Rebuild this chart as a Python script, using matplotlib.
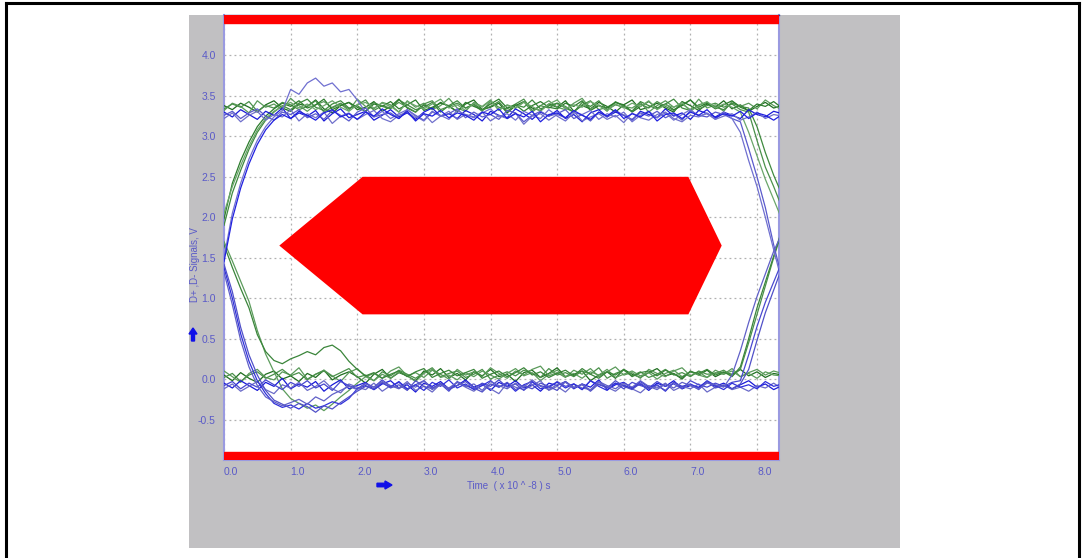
import numpy as np
import matplotlib.pyplot as plt
from matplotlib.patches import Rectangle, Polygon, FancyArrow
from matplotlib.lines import Line2D
import matplotlib.transforms as mtransforms

plt.rcParams['font.family'] = ['Liberation Sans', 'DejaVu Sans']

# 取樣時間 (x 10^-8 s), 每 0.125 一點
step = 0.125
n_pts = 68

# 綠色波形 (D+)
g_hh = [3.38, 3.33, 3.41, 3.36, 3.30, 3.39, 3.44, 3.35, 3.31, 3.40,
        3.37, 3.45, 3.34, 3.29, 3.38, 3.42, 3.33, 3.36, 3.43, 3.31,
        3.37, 3.46, 3.35, 3.30, 3.39, 3.34, 3.42, 3.37, 3.31, 3.40,
        3.45, 3.33, 3.36, 3.41, 3.29, 3.38, 3.43, 3.35, 3.32, 3.40,
        3.36, 3.44, 3.31, 3.38, 3.34, 3.42, 3.37, 3.30, 3.39, 3.45,
        3.33, 3.36, 3.41, 3.35, 3.30, 3.43, 3.38, 3.32, 3.40, 3.36,
        3.44, 3.34, 3.39, 3.31, 3.37, 3.42, 3.35, 3.38]
g_hh2 = [3.32, 3.41, 3.37, 3.29, 3.44, 3.36, 3.40, 3.33, 3.47, 3.38,
         3.31, 3.39, 3.43, 3.35, 3.40, 3.32, 3.46, 3.37, 3.34, 3.42,
         3.39, 3.30, 3.44, 3.36, 3.41, 3.33, 3.38, 3.47, 3.35, 3.31,
         3.42, 3.37, 3.45, 3.32, 3.39, 3.35, 3.43, 3.30, 3.38, 3.44,
         3.36, 3.33, 3.41, 3.47, 3.34, 3.39, 3.31, 3.43, 3.37, 3.35,
         3.42, 3.30, 3.38, 3.44, 3.36, 3.40, 3.33, 3.46, 3.35, 3.39,
         3.31, 3.43, 3.37, 3.41, 3.34, 3.45, 3.38, 3.33]
g_hf = [3.34, 3.40, 3.36, 3.43, 3.31, 3.38, 3.35, 3.42, 3.39, 3.33,
        3.37, 3.44, 3.30, 3.36, 3.41, 3.34, 3.39, 3.45, 3.32, 3.38,
        3.35, 3.42, 3.36, 3.30, 3.40, 3.44, 3.33, 3.37, 3.41, 3.35,
        3.39, 3.31, 3.43, 3.36, 3.34, 3.40, 3.46, 3.32, 3.38, 3.35,
        3.41, 3.37, 3.30, 3.39, 3.44, 3.33, 3.36, 3.42, 3.38, 3.31,
        3.40, 3.35, 3.43, 3.37, 3.32, 3.39, 3.45, 3.34, 3.38, 3.41,
        3.36, 3.40, 3.33, 3.30, 2.95, 2.62, 2.38, 2.12]
g_rh = [1.98, 2.42, 2.70, 2.93, 3.12, 3.25, 3.34, 3.41, 3.37, 3.44,
        3.35, 3.39, 3.46, 3.33, 3.38, 3.42, 3.36, 3.31, 3.40, 3.37,
        3.43, 3.34, 3.39, 3.45, 3.32, 3.36, 3.41, 3.38, 3.30, 3.42,
        3.37, 3.33, 3.40, 3.46, 3.35, 3.39, 3.31, 3.38, 3.43, 3.36,
        3.34, 3.41, 3.37, 3.44, 3.32, 3.38, 3.35, 3.42, 3.39, 3.30,
        3.37, 3.43, 3.35, 3.40, 3.33, 3.38, 3.45, 3.36, 3.41, 3.34,
        3.39, 3.44, 3.36, 3.32, 3.40, 3.37, 3.43, 3.35]
g_rh2 = [1.90, 2.30, 2.58, 2.84, 3.05, 3.20, 3.30, 3.38, 3.33, 3.41,
         3.46, 3.36, 3.32, 3.40, 3.44, 3.35, 3.38, 3.31, 3.42, 3.37,
         3.34, 3.45, 3.39, 3.33, 3.36, 3.42, 3.30, 3.38, 3.44, 3.35,
         3.40, 3.33, 3.37, 3.43, 3.31, 3.39, 3.36, 3.45, 3.34, 3.38,
         3.41, 3.35, 3.30, 3.42, 3.37, 3.44, 3.33, 3.39, 3.36, 3.31,
         3.43, 3.38, 3.34, 3.40, 3.46, 3.35, 3.32, 3.39, 3.42, 3.36,
         3.33, 3.41, 3.37, 3.35, 3.12, 2.80, 2.52, 2.28]
g_rf = [2.05, 2.38, 2.64, 2.88, 3.08, 3.22, 3.31, 3.37, 3.42, 3.35,
        3.40, 3.33, 3.38, 3.44, 3.36, 3.31, 3.39, 3.42, 3.35, 3.41,
        3.37, 3.30, 3.43, 3.38, 3.34, 3.40, 3.46, 3.35, 3.39, 3.32,
        3.41, 3.36, 3.44, 3.33, 3.38, 3.35, 3.42, 3.37, 3.31, 3.40,
        3.45, 3.34, 3.39, 3.36, 3.43, 3.38, 3.32, 3.40, 3.35, 3.41,
        3.37, 3.44, 3.33, 3.39, 3.36, 3.42, 3.31, 3.38, 3.43, 3.35,
        3.40, 3.36, 3.30, 3.05, 2.76, 2.47, 2.22, 1.97]
g_ll = [0.05, -0.02, 0.08, 0.01, -0.04, 0.06, 0.10, 0.00, 0.04, -0.03,
        0.07, 0.02, 0.11, -0.01, 0.05, 0.09, 0.03, -0.05, 0.06, 0.12,
        0.01, 0.08, 0.04, -0.02, 0.10, 0.05, 0.13, 0.02, 0.07, -0.01,
        0.09, 0.04, 0.12, 0.03, 0.06, -0.03, 0.08, 0.11, 0.02, 0.07,
        0.14, 0.03, 0.06, 0.10, -0.02, 0.05, 0.09, 0.01, 0.12, 0.06,
        0.02, 0.08, 0.13, 0.04, 0.07, 0.00, 0.10, 0.05, 0.11, 0.03,
        0.08, 0.06, 0.12, 0.04, 0.09, 0.02, 0.07, 0.05]
g_ll2 = [0.10, 0.03, -0.04, 0.07, 0.12, 0.02, -0.01, 0.09, 0.05, 0.14,
         0.00, 0.06, 0.11, 0.04, -0.03, 0.08, 0.13, 0.03, 0.07, 0.01,
         0.10, 0.15, 0.04, 0.08, 0.02, 0.11, 0.06, 0.00, 0.12, 0.05,
         0.09, 0.03, 0.14, 0.07, 0.01, 0.10, 0.05, 0.12, 0.16, 0.04,
         0.08, 0.02, 0.11, 0.06, 0.13, 0.03, 0.09, 0.15, 0.05, 0.08,
         0.01, 0.12, 0.07, 0.03, 0.10, 0.14, 0.04, 0.09, 0.02, 0.11,
         0.06, 0.13, 0.03, 0.08, 0.12, 0.05, 0.10, 0.07]
g_lr = [0.02, 0.07, -0.03, 0.05, 0.09, 0.01, 0.06, 0.12, 0.04, 0.08,
        -0.01, 0.06, 0.10, 0.03, 0.08, 0.13, 0.02, 0.05, -0.02, 0.09,
        0.04, 0.11, 0.06, 0.01, 0.08, 0.14, 0.03, 0.07, 0.10, 0.02,
        0.06, 0.12, 0.00, 0.05, 0.09, 0.04, 0.11, 0.07, 0.02, 0.13,
        0.05, 0.08, 0.03, 0.10, 0.06, 0.14, 0.01, 0.07, 0.11, 0.04,
        0.09, 0.02, 0.06, 0.12, 0.05, 0.08, 0.03, 0.10, 0.06, 0.07,
        0.11, 0.04, 0.12, 0.45, 0.80, 1.15, 1.50, 1.82]
g_fl = [1.70, 1.46, 1.21, 0.96, 0.60, 0.31, 0.09, -0.12, -0.24, -0.30,
        -0.36, -0.32, -0.39, -0.31, -0.22, -0.14, -0.05, 0.03, -0.02, 0.06,
        0.01, 0.09, 0.04, -0.03, 0.07, 0.12, 0.02, 0.05, -0.01, 0.08,
        0.03, 0.10, 0.05, 0.00, 0.07, 0.13, 0.04, 0.08, -0.02, 0.06,
        0.11, 0.03, 0.07, 0.01, 0.09, 0.05, 0.12, 0.02, 0.06, 0.10,
        0.04, 0.08, 0.00, 0.07, 0.11, 0.03, 0.09, 0.05, 0.02, 0.08,
        0.06, 0.10, 0.03, 0.07, 0.01, 0.09, 0.05, 0.04]
g_fr = [1.66, 1.38, 1.12, 0.88, 0.55, 0.34, 0.23, 0.19, 0.25, 0.29,
        0.34, 0.30, 0.39, 0.42, 0.35, 0.22, 0.12, 0.04, 0.08, 0.01,
        0.06, 0.10, 0.03, 0.09, 0.13, 0.02, 0.07, 0.11, 0.04, 0.08,
        0.12, 0.01, 0.06, 0.10, 0.03, 0.08, 0.14, 0.05, 0.09, 0.02,
        0.07, 0.11, 0.04, 0.13, 0.06, 0.01, 0.09, 0.05, 0.12, 0.03,
        0.08, 0.10, 0.04, 0.11, 0.06, 0.02, 0.09, 0.07, 0.12, 0.05,
        0.09, 0.03, 0.15, 0.50, 0.88, 1.20, 1.52, 1.85]

# 藍色波形 (D-)
b_hh = [3.30, 3.24, 3.33, 3.27, 3.21, 3.31, 3.26, 3.35, 3.22, 3.29,
        3.25, 3.32, 3.19, 3.28, 3.34, 3.23, 3.27, 3.31, 3.20, 3.26,
        3.33, 3.24, 3.29, 3.21, 3.30, 3.35, 3.25, 3.28, 3.22, 3.32,
        3.27, 3.19, 3.31, 3.26, 3.23, 3.34, 3.28, 3.21, 3.30, 3.25,
        3.32, 3.22, 3.27, 3.18, 3.29, 3.33, 3.24, 3.30, 3.26, 3.20,
        3.31, 3.27, 3.23, 3.34, 3.25, 3.29, 3.21, 3.32, 3.28, 3.24,
        3.30, 3.26, 3.22, 3.33, 3.27, 3.24, 3.31, 3.28]
b_hh2 = [3.22, 3.29, 3.18, 3.26, 3.31, 3.20, 3.27, 3.24, 3.33, 3.19,
         3.28, 3.23, 3.30, 3.16, 3.25, 3.29, 3.21, 3.27, 3.32, 3.22,
         3.18, 3.26, 3.30, 3.23, 3.28, 3.17, 3.25, 3.31, 3.21, 3.27,
         3.24, 3.30, 3.19, 3.26, 3.22, 3.29, 3.15, 3.25, 3.28, 3.20,
         3.27, 3.23, 3.31, 3.19, 3.24, 3.28, 3.21, 3.26, 3.17, 3.29,
         3.23, 3.20, 3.27, 3.30, 3.22, 3.18, 3.26, 3.24, 3.29, 3.21,
         3.25, 3.28, 3.20, 3.24, 3.30, 3.22, 3.27, 3.25]
b_hf = [3.26, 3.31, 3.22, 3.29, 3.34, 3.25, 3.20, 3.30, 3.27, 3.33,
        3.23, 3.28, 3.21, 3.32, 3.26, 3.19, 3.30, 3.35, 3.24, 3.27,
        3.29, 3.22, 3.33, 3.26, 3.20, 3.31, 3.25, 3.28, 3.34, 3.23,
        3.30, 3.24, 3.27, 3.21, 3.32, 3.29, 3.18, 3.26, 3.31, 3.25,
        3.28, 3.33, 3.22, 3.27, 3.19, 3.30, 3.24, 3.32, 3.26, 3.21,
        3.29, 3.25, 3.31, 3.23, 3.28, 3.20, 3.32, 3.26, 3.24, 3.30,
        3.27, 3.22, 3.18, 2.85, 2.50, 2.12, 1.66, 1.25]
b_rf = [1.50, 2.05, 2.42, 2.72, 2.95, 3.12, 3.24, 3.32, 3.58, 3.52,
        3.66, 3.72, 3.62, 3.66, 3.55, 3.58, 3.45, 3.30, 3.24, 3.31,
        3.22, 3.28, 3.33, 3.25, 3.19, 3.30, 3.26, 3.21, 3.32, 3.27,
        3.23, 3.29, 3.34, 3.24, 3.28, 3.20, 3.31, 3.26, 3.22, 3.33,
        3.25, 3.19, 3.29, 3.27, 3.32, 3.21, 3.28, 3.24, 3.30, 3.18,
        3.26, 3.31, 3.23, 3.29, 3.20, 3.27, 3.33, 3.25, 3.28, 3.21,
        3.30, 3.22, 3.05, 2.70, 2.38, 2.00, 1.60, 1.20]
b_rh = [1.45, 1.98, 2.36, 2.66, 2.90, 3.08, 3.20, 3.27, 3.22, 3.31,
        3.26, 3.20, 3.29, 3.33, 3.24, 3.28, 3.21, 3.30, 3.25, 3.34,
        3.27, 3.22, 3.31, 3.19, 3.28, 3.25, 3.32, 3.23, 3.29, 3.26,
        3.20, 3.30, 3.27, 3.34, 3.22, 3.28, 3.24, 3.31, 3.18, 3.27,
        3.29, 3.23, 3.32, 3.26, 3.21, 3.30, 3.25, 3.33, 3.22, 3.28,
        3.24, 3.31, 3.19, 3.27, 3.29, 3.22, 3.30, 3.26, 3.33, 3.23,
        3.28, 3.25, 3.31, 3.22, 3.29, 3.26, 3.20, 3.27]
b_ll = [-0.05, -0.11, -0.02, -0.08, -0.14, -0.04, -0.09, 0.01, -0.12, -0.06,
        -0.10, -0.03, -0.15, -0.07, -0.01, -0.12, -0.08, -0.04, -0.13, -0.06,
        -0.02, -0.11, -0.07, -0.16, -0.05, -0.09, -0.03, -0.12, -0.08, -0.01,
        -0.10, -0.06, -0.14, -0.04, -0.09, -0.02, -0.11, -0.07, -0.15, -0.05,
        -0.08, -0.03, -0.12, -0.06, -0.10, -0.01, -0.13, -0.07, -0.04, -0.11,
        -0.06, -0.14, -0.05, -0.09, -0.02, -0.12, -0.08, -0.10, -0.03, -0.09,
        -0.05, -0.12, -0.07, -0.02, -0.10, -0.06, -0.13, -0.08]
b_ll2 = [-0.12, -0.06, -0.15, -0.09, -0.03, -0.13, -0.18, -0.07, -0.11, -0.04,
         -0.14, -0.09, -0.02, -0.12, -0.17, -0.06, -0.10, -0.13, -0.05, -0.15,
         -0.08, -0.11, -0.03, -0.14, -0.09, -0.16, -0.06, -0.12, -0.04, -0.10,
         -0.15, -0.07, -0.12, -0.18, -0.05, -0.10, -0.13, -0.08, -0.02, -0.14,
         -0.09, -0.16, -0.06, -0.11, -0.13, -0.04, -0.10, -0.15, -0.07, -0.12,
         -0.17, -0.08, -0.11, -0.05, -0.14, -0.09, -0.12, -0.06, -0.16, -0.10,
         -0.07, -0.13, -0.10, -0.15, -0.08, -0.11, -0.05, -0.12]
b_lr = [-0.08, -0.03, -0.12, -0.05, -0.10, -0.01, -0.07, -0.13, -0.04, -0.09,
        -0.02, -0.11, -0.06, -0.14, -0.03, -0.08, -0.12, -0.05, -0.10, -0.01,
        -0.09, -0.04, -0.13, -0.07, -0.02, -0.11, -0.06, -0.15, -0.03, -0.08,
        -0.12, -0.05, -0.09, -0.01, -0.10, -0.06, -0.14, -0.04, -0.08, -0.11,
        -0.03, -0.09, -0.06, -0.13, -0.02, -0.07, -0.10, -0.05, -0.12, -0.04,
        -0.08, -0.11, -0.03, -0.09, -0.06, -0.12, -0.02, -0.07, -0.10, -0.05,
        -0.09, -0.04, -0.02, 0.30, 0.65, 0.95, 1.20, 1.45]
b_fl = [1.38, 1.00, 0.56, 0.22, -0.02, -0.18, -0.30, -0.35, -0.32, -0.37,
        -0.30, -0.36, -0.33, -0.28, -0.31, -0.24, -0.12, -0.08, -0.13, -0.05,
        -0.10, -0.03, -0.12, -0.07, -0.14, -0.04, -0.09, -0.01, -0.11, -0.06,
        -0.13, -0.08, -0.02, -0.10, -0.05, -0.15, -0.07, -0.03, -0.12, -0.09,
        -0.04, -0.11, -0.06, -0.13, -0.02, -0.09, -0.14, -0.05, -0.08, -0.12,
        -0.03, -0.10, -0.07, -0.15, -0.04, -0.09, -0.06, -0.11, -0.02, -0.08,
        -0.13, -0.05, -0.10, -0.07, -0.12, -0.03, -0.09, -0.06]
b_fl2 = [1.42, 1.08, 0.64, 0.30, 0.05, -0.14, -0.26, -0.31, -0.36, -0.30,
         -0.34, -0.41, -0.33, -0.37, -0.29, -0.22, -0.15, -0.09, -0.12, -0.04,
         -0.11, -0.07, -0.14, -0.02, -0.09, -0.12, -0.05, -0.13, -0.08, -0.03,
         -0.11, -0.16, -0.06, -0.10, -0.04, -0.13, -0.08, -0.12, -0.05, -0.09,
         -0.14, -0.03, -0.10, -0.07, -0.15, -0.06, -0.11, -0.02, -0.09, -0.13,
         -0.05, -0.12, -0.08, -0.14, -0.04, -0.10, -0.07, -0.13, -0.03, -0.11,
         -0.08, -0.12, -0.06, 0.12, 0.48, 0.82, 1.10, 1.38]
b_fr = [1.32, 0.92, 0.48, 0.15, -0.08, -0.22, -0.28, -0.33, -0.29, -0.25,
        -0.31, -0.22, -0.27, -0.19, -0.14, -0.09, -0.13, -0.06, -0.10, -0.03,
        -0.08, -0.12, -0.05, -0.10, -0.02, -0.13, -0.07, -0.11, -0.04, -0.09,
        -0.06, -0.14, -0.03, -0.08, -0.12, -0.05, -0.10, -0.01, -0.09, -0.13,
        -0.07, -0.04, -0.11, -0.06, -0.14, -0.03, -0.08, -0.12, -0.05, -0.10,
        -0.02, -0.09, -0.13, -0.06, -0.11, -0.04, -0.08, -0.12, -0.05, -0.07,
        -0.10, 0.05, 0.35, 0.70, 1.02, 1.30, 1.58, 1.80]

green_traces = [g_hh, g_hh2, g_hf, g_rh, g_rh2, g_rf, g_ll, g_ll2, g_lr, g_fl, g_fr]
blue_traces = [b_hh, b_hh2, b_hf, b_rf, b_rh, b_ll, b_ll2, b_lr, b_fl, b_fl2, b_fr]
green_cols = ['#1f6e1f', '#5a9a5a', '#4a904a', '#2d7d2d', '#3f8a3f', '#6aa66a',
              '#1f6e1f', '#5a9a5a', '#4a904a', '#5c9c5c', '#3a853a']
blue_cols = ['#1a1ad8', '#7070cc', '#5a5acc', '#6f6fd0', '#2020e0', '#1a1ad8',
             '#6a6ac8', '#4848d0', '#3030dc', '#5050c8', '#6060c8']

# 眼圖遮罩 (六角形)
mask_x = [0.83, 2.08, 6.97, 7.47, 6.97, 2.08]
mask_y = [1.65, 2.50, 2.50, 1.65, 0.80, 0.80]

xticks = [0, 1, 2, 3, 4, 5, 6, 7, 8]
yticks = [-0.5, 0.0, 0.5, 1.0, 1.5, 2.0, 2.5, 3.0, 3.5, 4.0]

W, H = 1082, 558
fig = plt.figure(figsize=(W / 100, H / 100), dpi=100)
fig.patch.set_facecolor('white')

def fx(px):
    return px / W

def fy(py):
    return (H - py) / H

# 灰色底板
fig.add_artist(Rectangle((fx(189), fy(548)), fx(711), 533 / H, transform=fig.transFigure,
                         facecolor='#c1c0c2', edgecolor='none', zorder=0))
# 外框
for xs, ys in [((6, 6), (3, 558)), ((6, 1079), (3, 3)), ((1079, 1079), (3, 558))]:
    fig.add_artist(Line2D([fx(x) for x in xs], [fy(y) for y in ys], transform=fig.transFigure,
                          color='black', linewidth=2.2))

ax = fig.add_axes([fx(224), fy(460), fx(555), 445 / H])
ax.set_facecolor('white')
ax.set_xlim(0, 8.33)
ax.set_ylim(-1.0, 4.5)

t = np.arange(n_pts) * step
for vals, c in zip(green_traces, green_cols):
    assert len(vals) == n_pts
    ax.plot(t, vals, color=c, linewidth=0.9, zorder=4)
for vals, c in zip(blue_traces, blue_cols):
    assert len(vals) == n_pts
    ax.plot(t, vals, color=c, linewidth=0.9, zorder=5)

ax.add_patch(Polygon(list(zip(mask_x, mask_y)), closed=True, facecolor='#ff0000', edgecolor='none', zorder=3))
ax.axhspan(4.4, 4.5, color='#ff0000', zorder=6)
ax.axhspan(-1.0, -0.9, color='#ff0000', zorder=6)

ax.set_xticks(xticks)
ax.set_xticklabels([f'{v:.1f}' for v in xticks])
ax.set_yticks(yticks)
ax.set_yticklabels([f'{v:.1f}' for v in yticks])
for lab in ax.get_xticklabels():
    lab.set_horizontalalignment('left')
ax.tick_params(axis='both', length=0, labelsize=7.5, labelcolor='#5a5ac8')
ax.tick_params(axis='x', pad=5)
ax.tick_params(axis='y', pad=6)
ax.grid(True, color='#b0b0b0', linestyle=(0, (1.5, 2.5)), linewidth=0.9, zorder=1)
ax.set_axisbelow(True)

for side in ['left', 'right', 'bottom']:
    ax.spines[side].set_color('#9a9ae0')
    ax.spines[side].set_linewidth(1.5)
ax.spines['top'].set_color('#3a3a8c')
ax.spines['top'].set_linewidth(1.0)

fig.text(fx(195), fy(265), 'D+ ,D- Signals, V', rotation=90, ha='center', va='center',
         fontsize=7, color='#5a5ac8')
fig.text(fx(467), fy(486), 'Time  ( x 10 ^ -8 ) s', ha='left', va='center',
         fontsize=7, color='#5a5ac8')

ident = mtransforms.IdentityTransform()
fig.add_artist(FancyArrow(193, H - 341, 0, 7, width=3, head_width=8, head_length=6,
                          length_includes_head=False, color='#1010e8', transform=ident))
fig.add_artist(FancyArrow(377, H - 485, 8, 0, width=3.5, head_width=8, head_length=7,
                          length_includes_head=False, color='#1010e8', transform=ident))

fig.savefig('out.png', dpi=100, facecolor='white')
